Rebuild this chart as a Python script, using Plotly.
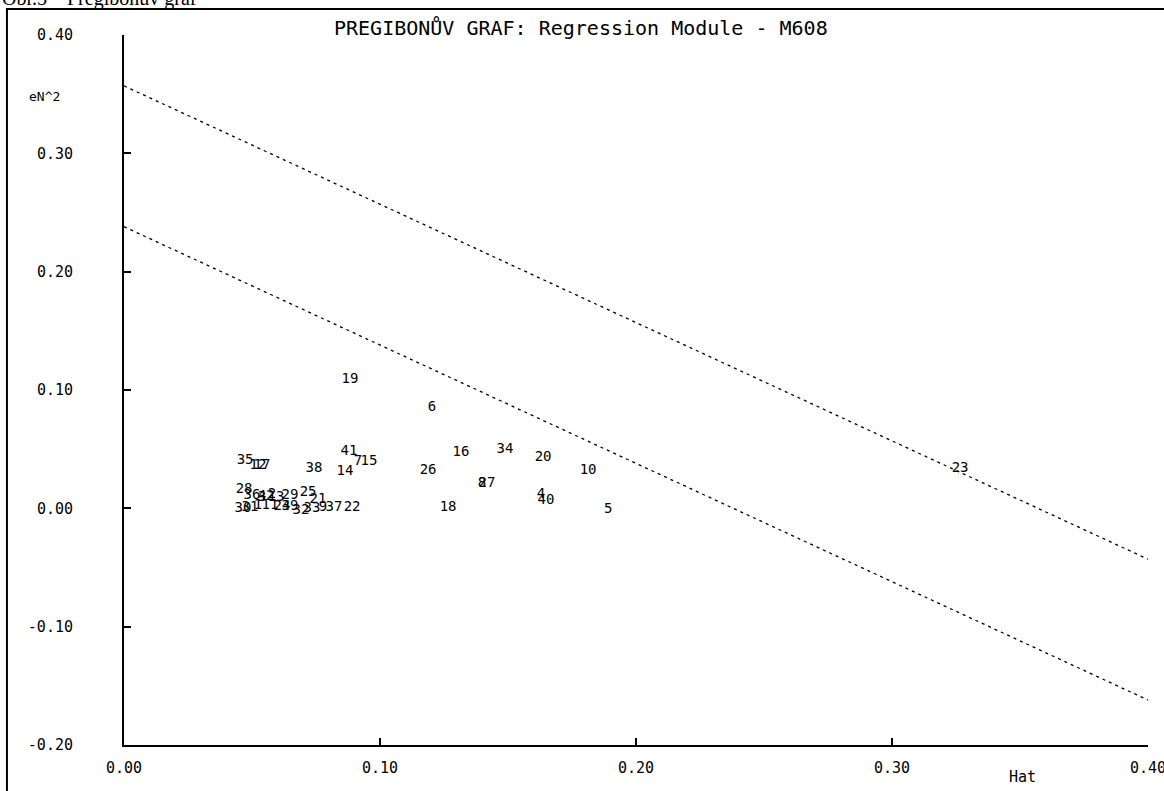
import plotly.graph_objects as go

# Pregibon plot data (Hat vs eN^2), labels are observation numbers
labels = ["19", "6", "41", "7", "15", "14", "38", "35", "12", "17",
          "26", "16", "34", "20", "10", "8", "27", "4", "40", "18",
          "5", "23", "28", "29", "25", "30", "32", "33", "21", "9",
          "37", "22", "36", "1", "3", "11", "13", "24", "31", "39",
          "42", "2"]
hat = [0.0883, 0.1203, 0.0879, 0.0914, 0.0957, 0.0863, 0.0742, 0.0473, 0.0523, 0.0539,
       0.1188, 0.1316, 0.1488, 0.1637, 0.1813, 0.1398, 0.1418, 0.1629, 0.1648, 0.1266,
       0.1891, 0.3266, 0.0469, 0.0648, 0.0719, 0.0465, 0.0691, 0.0734, 0.0758, 0.0777,
       0.0820, 0.0891, 0.0500, 0.0523, 0.0539, 0.0570, 0.0594, 0.0617, 0.0492, 0.0648,
       0.0555, 0.0578]
en2 = [0.1091, 0.0854, 0.0482, 0.0397, 0.0397, 0.0313, 0.0338, 0.0406, 0.0364, 0.0364,
       0.0321, 0.0474, 0.0499, 0.0431, 0.0321, 0.0211, 0.0211, 0.0118, 0.0068, 0.0008,
       -0.0008, 0.0338, 0.0161, 0.0110, 0.0135, 0.0000, -0.0017, 0.0000, 0.0076, 0.0008,
       0.0008, 0.0008, 0.0110, 0.0025, 0.0093, 0.0025, 0.0093, 0.0017, 0.0008, 0.0017,
       0.0101, 0.0118]

# Limit lines (endpoints)
limit_x = [0.0, 0.4]
lower_limit = [0.238, -0.162]
upper_limit = [0.357, -0.043]

x_ticks = [0.0, 0.1, 0.2, 0.3, 0.4]
x_ticklabels = ["0.00", "0.10", "0.20", "0.30", "0.40"]
y_ticks = [-0.2, -0.1, 0.0, 0.1, 0.2, 0.3, 0.4]
y_ticklabels = ["-0.20", "-0.10", "0.00", "0.10", "0.20", "0.30", "0.40"]

MONO = "DejaVu Sans Mono"

fig = go.Figure()
for yy in (upper_limit, lower_limit):
    fig.add_trace(go.Scatter(x=limit_x, y=yy, mode="lines",
                             line=dict(color="black", width=1.3, dash="3px,4px"),
                             hoverinfo="skip", showlegend=False))
fig.add_trace(go.Scatter(x=hat, y=en2, mode="text", text=labels,
                         textposition="middle center",
                         textfont=dict(family=MONO, size=14, color="black"),
                         showlegend=False, cliponaxis=False))

axis_common = dict(showgrid=False, zeroline=False, showline=True,
                   linecolor="black", linewidth=2, ticks="inside",
                   ticklen=7, tickwidth=1.5, tickcolor="black",
                   ticklabeloverflow="allow", automargin=False,
                   tickfont=dict(family=MONO, size=15, color="black"))

fig.update_xaxes(range=[0, 0.4], tickvals=x_ticks, ticktext=x_ticklabels,
                 ticklabelstandoff=8, **axis_common)
fig.update_yaxes(range=[-0.2, 0.4], tickvals=y_ticks, ticktext=y_ticklabels,
                 ticklabelstandoff=46, **axis_common)

fig.update_layout(
    width=1164, height=791,
    margin=dict(l=124, r=16, t=35, b=46, autoexpand=False),
    paper_bgcolor="white", plot_bgcolor="white",
    showlegend=False,
    annotations=[
        dict(text="PREGIBONŮV GRAF: Regression Module - M608", xref="paper", yref="paper",
             x=0.4463, y=1.0099, xanchor="center", yanchor="middle", showarrow=False,
             font=dict(family=MONO, size=20, color="black")),
        dict(text="eN^2", xref="paper", yref="paper", x=-0.0947, y=0.914,
             xanchor="left", yanchor="middle", showarrow=False,
             font=dict(family=MONO, size=13, color="black")),
        dict(text="Hat", xref="paper", yref="paper", x=0.877, y=-0.0451,
             xanchor="center", yanchor="middle", showarrow=False,
             font=dict(family=MONO, size=15, color="black")),
        dict(text="Obr.5 – Pregibonův graf", xref="paper", yref="paper",
             x=-0.1211, y=1.0324, xanchor="left", yanchor="bottom", showarrow=False,
             font=dict(family="Liberation Serif", size=20, color="black")),
    ],
    shapes=[
        dict(type="rect", xref="paper", yref="paper",
             x0=-0.1143, x1=1.05, y0=-0.1, y1=1.0366,
             line=dict(color="black", width=2), fillcolor="rgba(0,0,0,0)",
             layer="below"),
    ],
)

fig.write_html("out.html", config={"displayModeBar": False},
               post_script="document.body.style.margin='0';document.body.style.overflow='hidden';")
